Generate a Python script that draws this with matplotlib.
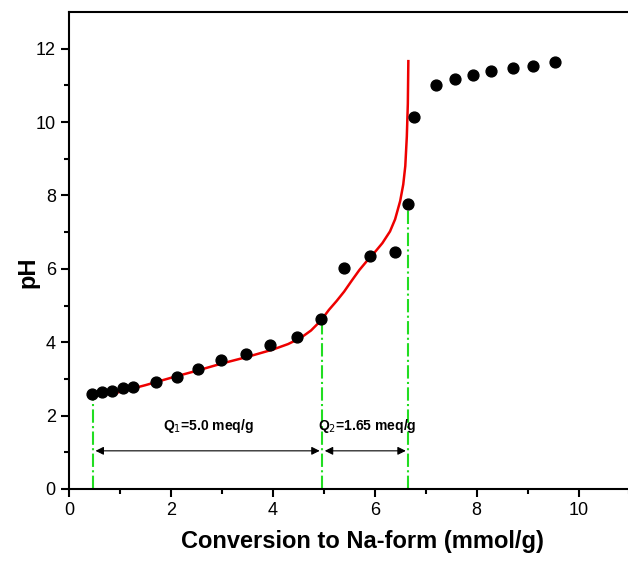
import matplotlib
matplotlib.use('Agg')
import matplotlib.pyplot as plt
from matplotlib import font_manager

# 測定点 (pH滴定)
conv = [0.46, 0.64, 0.85, 1.05, 1.26, 1.71, 2.12, 2.54, 2.99, 3.47, 3.94, 4.47, 4.95,
        5.39, 5.90, 6.40, 6.65, 6.78, 7.20, 7.57, 7.93, 8.29, 8.72, 9.10, 9.53]
ph = [2.58, 2.64, 2.68, 2.76, 2.79, 2.91, 3.06, 3.26, 3.51, 3.67, 3.92, 4.15, 4.62,
      6.03, 6.35, 6.46, 7.78, 10.13, 11.00, 11.18, 11.27, 11.40, 11.47, 11.53, 11.64]

# フィット曲線 (赤)
fit_x = [0.87, 1.5, 2.0, 2.5, 3.0, 3.5, 4.0, 4.3, 4.55, 4.75, 4.95, 5.1, 5.25, 5.4,
         5.55, 5.7, 5.85, 6.0, 6.15, 6.3, 6.4, 6.5, 6.56, 6.6, 6.63, 6.65, 6.66]
fit_y = [2.60, 2.83, 3.03, 3.22, 3.42, 3.60, 3.80, 3.95, 4.12, 4.32, 4.60, 4.88, 5.12,
         5.38, 5.68, 5.97, 6.22, 6.45, 6.70, 7.02, 7.35, 7.85, 8.30, 8.80, 9.60, 10.50, 11.66]

# 当量点
eq_x = [0.47, 4.97, 6.66]
eq_y = [2.58, 4.62, 7.78]
q_labels = ['Q$_1$=5.0 meq/g', 'Q$_2$=1.65 meq/g']

fams = [f.name for f in font_manager.fontManager.ttflist]
narrow = 'Liberation Sans Narrow' if 'Liberation Sans Narrow' in fams else 'Liberation Sans'
plt.rcParams['font.family'] = [narrow, 'DejaVu Sans']

fig = plt.figure(figsize=(6.28, 5.62), dpi=100)
ax = fig.add_axes([0.1099, 0.1299, 0.933, 0.8488])

ax.plot(fit_x, fit_y, color='#ee0000', linewidth=1.8, zorder=2)
ax.plot(conv, ph, 'o', color='black', markersize=7.8, zorder=3)

for x, y in zip(eq_x, eq_y):
    ax.plot([x, x], [0, y], color='#22dd22', linestyle='-.', linewidth=1.5, zorder=1)

# 矢印
for i in range(2):
    ax.annotate('', xy=(eq_x[i + 1] - 0.05, 1.04), xytext=(eq_x[i] + 0.05, 1.04),
                arrowprops=dict(arrowstyle='<|-|>', color='black', lw=0.8,
                                mutation_scale=12, shrinkA=0, shrinkB=0))
ax.text(2.73, 1.72, q_labels[0], ha='center', va='center', fontsize=10, fontweight='bold')
ax.text(5.86, 1.72, q_labels[1], ha='center', va='center', fontsize=10, fontweight='bold')

ax.set_xlim(0, 11.5)
ax.set_ylim(0, 13)
ax.set_xticks([0, 2, 4, 6, 8, 10])
ax.set_xticks([1, 3, 5, 7, 9, 11], minor=True)
ax.set_yticks([0, 2, 4, 6, 8, 10, 12])
ax.set_yticks([1, 3, 5, 7, 9, 11], minor=True)
ax.tick_params(which='major', direction='out', length=6, width=1.5, labelsize=13)
ax.tick_params(which='minor', direction='out', length=3.5, width=1.5)
for s in ['left', 'bottom', 'top']:
    ax.spines[s].set_linewidth(1.5)
ax.spines['right'].set_visible(False)

ax.set_xlabel('Conversion to Na-form (mmol/g)', fontsize=17, fontweight='bold')
ax.set_ylabel('pH', fontsize=17, fontweight='bold')
ax.xaxis.set_label_coords(0.5, -0.085)
ax.yaxis.set_label_coords(-0.05, 0.455)

fig.savefig('out.png', dpi=100)
